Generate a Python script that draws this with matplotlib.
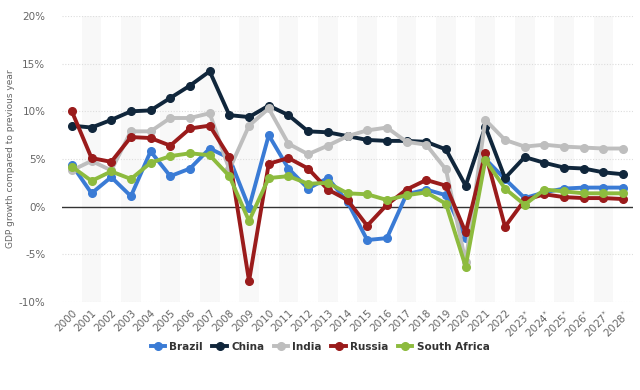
import matplotlib
matplotlib.use("Agg")
import matplotlib.pyplot as plt

years = ["2000", "2001", "2002", "2003", "2004", "2005", "2006", "2007", "2008", "2009",
         "2010", "2011", "2012", "2013", "2014", "2015", "2016", "2017", "2018", "2019",
         "2020", "2021", "2022", "2023*", "2024*", "2025*", "2026*", "2027*", "2028*"]

brazil = [4.4, 1.4, 3.1, 1.1, 5.8, 3.2, 4.0, 6.1, 5.1, -0.1,
          7.5, 4.0, 1.9, 3.0, 0.5, -3.5, -3.3, 1.3, 1.8, 1.2,
          -3.3, 5.0, 2.9, 0.9, 1.5, 1.9, 2.0, 2.0, 2.0]
china = [8.5, 8.3, 9.1, 10.0, 10.1, 11.4, 12.7, 14.2, 9.6, 9.4,
         10.6, 9.6, 7.9, 7.8, 7.4, 7.0, 6.9, 6.9, 6.8, 6.0,
         2.2, 8.4, 3.0, 5.2, 4.6, 4.1, 4.0, 3.6, 3.4]
india = [3.8, 4.8, 3.8, 7.9, 7.9, 9.3, 9.3, 9.8, 3.9, 8.5,
         10.3, 6.6, 5.5, 6.4, 7.4, 8.0, 8.3, 6.8, 6.5, 3.9,
         -5.8, 9.1, 7.0, 6.3, 6.5, 6.3, 6.2, 6.1, 6.1]
russia = [10.0, 5.1, 4.7, 7.3, 7.2, 6.4, 8.2, 8.5, 5.2, -7.8,
          4.5, 5.1, 4.0, 1.8, 0.7, -2.0, 0.2, 1.8, 2.8, 2.2,
          -2.7, 5.6, -2.1, 0.7, 1.3, 1.0, 0.9, 0.9, 0.8]
south_africa = [4.2, 2.7, 3.7, 2.9, 4.6, 5.3, 5.6, 5.4, 3.2, -1.5,
                3.0, 3.2, 2.4, 2.5, 1.4, 1.3, 0.7, 1.2, 1.5, 0.3,
                -6.3, 4.9, 1.9, 0.2, 1.8, 1.6, 1.4, 1.4, 1.4]

series = [("Brazil", brazil, "#3a7bd5"),
          ("China", china, "#10263b"),
          ("India", india, "#bebebe"),
          ("Russia", russia, "#9a1b1b"),
          ("South Africa", south_africa, "#8dbb3e")]

fig = plt.figure(figsize=(6.4, 3.9), dpi=100)
ax = fig.add_axes([62 / 640, 1 - 302 / 390, 571 / 640, 286 / 390])

x = list(range(len(years)))

# alternate shaded columns
for i in x:
    if i % 2 == 1:
        ax.axvspan(i - 0.5, i + 0.5, color="#f8f8f8", zorder=0, lw=0)

for v in [-10, -5, 5, 10, 15, 20]:
    ax.axhline(v, color="#dddddd", lw=0.8, ls=(0, (1, 1.5)), zorder=1)
ax.axhline(0, color="#333333", lw=1.0, zorder=2)

for name, vals, col in series:
    ax.plot(x, vals, color=col, lw=2.8, marker="o", ms=5.5, label=name, zorder=3,
            solid_joinstyle="round")

ax.set_xlim(-0.5, 28.5)
ax.set_ylim(-10, 20)
ax.set_yticks([-10, -5, 0, 5, 10, 15, 20])
ax.set_yticklabels(["-10%", "-5%", "0%", "5%", "10%", "15%", "20%"])
ax.set_xticks(x)
ax.set_xticklabels([y.replace("*", "$^{*}$") for y in years], rotation=45,
                   ha="right", rotation_mode="anchor")
ax.tick_params(axis="both", length=0, labelsize=7.5, colors="#666666")
ax.tick_params(axis="x", pad=4)
ax.tick_params(axis="y", pad=12)
for s in ax.spines.values():
    s.set_visible(False)

ax.set_ylabel("GDP growth compared to previous year", fontsize=6.5, color="#666666")
ax.yaxis.set_label_coords(-0.082, 0.5)

leg = ax.legend(loc="center", bbox_to_anchor=(0.452, -0.157), ncol=5, frameon=False,
                handlelength=1.4, columnspacing=0.9, handletextpad=0.4,
                prop={"weight": "bold", "size": 7.5})
for t in leg.get_texts():
    t.set_color("#333333")

fig.savefig("out.png", dpi=100)
